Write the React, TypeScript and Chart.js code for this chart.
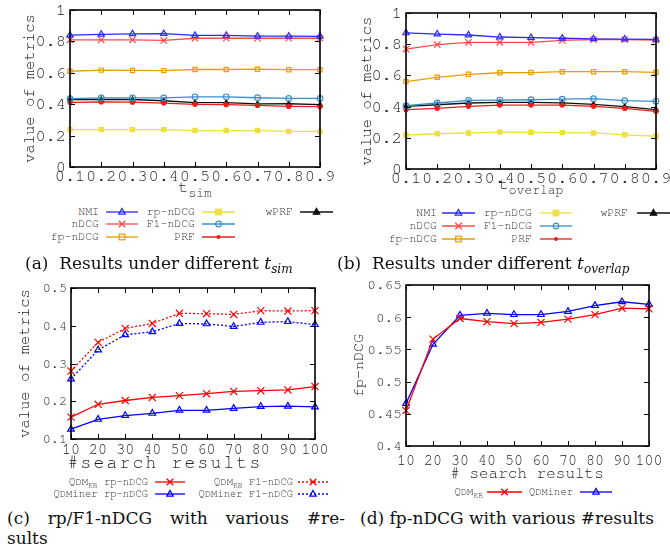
import React, { useEffect, useRef } from 'react';
import { Chart, registerables } from 'chart.js';
Chart.register(...registerables);

// ---------- data ----------
const tLabels = ['0.1', '0.2', '0.3', '0.4', '0.5', '0.6', '0.7', '0.8', '0.9'];
const nLabels = ['10', '20', '30', '40', '50', '60', '70', '80', '90', '100'];

// (a) t_sim
const simNMI = [0.84, 0.845, 0.848, 0.849, 0.838, 0.838, 0.833, 0.833, 0.832];
const simNDCG = [0.81, 0.81, 0.81, 0.806, 0.82, 0.82, 0.82, 0.82, 0.82];
const simFp = [0.61, 0.617, 0.615, 0.614, 0.621, 0.621, 0.623, 0.62, 0.62];
const simRp = [0.238, 0.238, 0.238, 0.238, 0.232, 0.232, 0.232, 0.227, 0.227];
const simF1 = [0.435, 0.44, 0.44, 0.44, 0.447, 0.447, 0.441, 0.437, 0.437];
const simPRF = [0.412, 0.414, 0.413, 0.407, 0.399, 0.397, 0.392, 0.386, 0.384];
const simWPRF = [0.43, 0.43, 0.43, 0.422, 0.41, 0.41, 0.402, 0.403, 0.397];

// (b) t_overlap
const ovNMI = [0.872, 0.865, 0.859, 0.846, 0.842, 0.838, 0.834, 0.833, 0.831];
const ovNDCG = [0.769, 0.797, 0.812, 0.812, 0.812, 0.825, 0.829, 0.829, 0.826];
const ovFp = [0.56, 0.588, 0.607, 0.617, 0.618, 0.624, 0.624, 0.624, 0.62];
const ovRp = [0.218, 0.226, 0.231, 0.237, 0.235, 0.233, 0.231, 0.219, 0.21];
const ovF1 = [0.406, 0.423, 0.44, 0.442, 0.444, 0.448, 0.451, 0.438, 0.434];
const ovPRF = [0.38, 0.389, 0.402, 0.41, 0.41, 0.41, 0.402, 0.388, 0.37];
const ovWPRF = [0.402, 0.412, 0.423, 0.427, 0.427, 0.424, 0.414, 0.4, 0.381];

// (c) rp / F1-nDCG vs #search results
const kbF1 = [0.28, 0.356, 0.393, 0.406, 0.433, 0.432, 0.43, 0.44, 0.439, 0.44];
const minerF1 = [0.259, 0.336, 0.376, 0.384, 0.406, 0.405, 0.398, 0.409, 0.411, 0.403];
const kbRp = [0.158, 0.192, 0.202, 0.21, 0.215, 0.22, 0.226, 0.228, 0.23, 0.239];
const minerRp = [0.126, 0.152, 0.162, 0.168, 0.176, 0.176, 0.181, 0.186, 0.187, 0.185];

// (d) fp-nDCG vs #search results
const kbFp = [0.455, 0.566, 0.598, 0.593, 0.59, 0.592, 0.597, 0.604, 0.614, 0.613];
const minerFp = [0.466, 0.558, 0.603, 0.606, 0.604, 0.604, 0.609, 0.618, 0.624, 0.62];

// ---------- styles ----------
const MONO = '"Nimbus Mono PS", "Nimbus Mono L", "FreeMono", "Courier New", Courier, "Liberation Mono", monospace';
const SERIF = '"DejaVu Serif", serif';
const TXT = '#1e1e1e';

const COL = {
  nmi: '#2a2aff',
  ndcg: '#ff4a4a',
  fp: '#e8a000',
  rp: '#ede040',
  f1: '#3a8fcc',
  prf: '#ee1c1c',
  wprf: '#111111',
  red: '#ff0000',
  blue: '#0000ff',
};

function ds(label: string, data: number[], color: string, style: string, radius: number, filled: boolean, dash: number[] = []) {
  return {
    label,
    data,
    borderColor: color,
    backgroundColor: color,
    borderWidth: 1.3,
    borderDash: dash,
    pointStyle: style,
    pointRadius: radius,
    pointBorderColor: color,
    pointBackgroundColor: filled ? color : 'rgba(0,0,0,0)',
    pointBorderWidth: 1.2,
    tension: 0,
    clip: false,
  };
}

const framePlugin = {
  id: 'gnuframe',
  afterDraw(chart: any) {
    const { ctx, chartArea } = chart;
    const { left, right, top, bottom } = chartArea;
    const xs = chart.scales.x;
    const ys = chart.scales.y;
    const L = 5;
    ctx.save();
    ctx.strokeStyle = '#000';
    ctx.lineWidth = 1;
    ctx.beginPath();
    xs.ticks.forEach((_: any, i: number) => {
      const px = Math.round(xs.getPixelForTick(i)) + 0.5;
      ctx.moveTo(px, bottom);
      ctx.lineTo(px, bottom - L);
      ctx.moveTo(px, top);
      ctx.lineTo(px, top + L);
    });
    ys.ticks.forEach((_: any, i: number) => {
      const py = Math.round(ys.getPixelForTick(i)) + 0.5;
      ctx.moveTo(left, py);
      ctx.lineTo(left + L, py);
      ctx.moveTo(right, py);
      ctx.lineTo(right - L, py);
    });
    ctx.stroke();
    ctx.lineWidth = 1.6;
    ctx.strokeRect(left, top, right - left, bottom - top);
    ctx.restore();
  },
};

type Box = { left: number; top: number; width: number; height: number };
type Area = { left: number; top: number; right: number; bottom: number };

function fmt(v: number) {
  return String(Number(Number(v).toFixed(3)));
}

function ChartPanel(props: {
  box: Box;
  area: Area;
  labels: string[];
  datasets: any[];
  yMin: number;
  yMax: number;
  yStep: number;
  xFontSize: number;
  xPad: number;
  yFontSize: number;
  yTitle: string;
  yTitleSize: number;
  yTitlePad: number;
}) {
  const ref = useRef<HTMLCanvasElement>(null);
  const { box, area } = props;
  useEffect(() => {
    const chart = new Chart(ref.current as HTMLCanvasElement, {
      type: 'line',
      data: { labels: props.labels, datasets: props.datasets },
      options: {
        animation: false,
        responsive: false,
        maintainAspectRatio: false,
        devicePixelRatio: 1,
        layout: {
          padding: {
            left: 0,
            top: area.top - box.top,
            right: box.left + box.width - area.right,
            bottom: 0,
          },
        },
        plugins: { legend: { display: false }, tooltip: { enabled: false } },
        scales: {
          x: {
            type: 'category',
            offset: false,
            grid: { display: false, drawTicks: false },
            border: { display: false },
            ticks: {
              autoSkip: false,
              maxRotation: 0,
              minRotation: 0,
              padding: props.xPad,
              color: TXT,
              font: { family: MONO, size: props.xFontSize },
            },
            afterFit: (s: any) => {
              s.height = box.top + box.height - area.bottom;
              s.paddingLeft = 0;
              s.paddingRight = 0;
            },
          },
          y: {
            type: 'linear',
            min: props.yMin,
            max: props.yMax,
            grid: { display: false, drawTicks: false },
            border: { display: false },
            ticks: {
              stepSize: props.yStep,
              padding: 4,
              color: TXT,
              font: { family: MONO, size: props.yFontSize },
              callback: (v: any) => fmt(v),
            },
            title: {
              display: true,
              text: props.yTitle,
              color: TXT,
              font: { family: MONO, size: props.yTitleSize },
              padding: { top: props.yTitlePad, bottom: 0 },
            },
            afterFit: (s: any) => {
              s.width = area.left - box.left;
              s.paddingTop = 0;
              s.paddingBottom = 0;
            },
          },
        },
      } as any,
      plugins: [framePlugin],
    });
    return () => chart.destroy();
  }, []);
  return (
    <canvas
      ref={ref}
      width={box.width}
      height={box.height}
      style={{ position: 'absolute', left: box.left, top: box.top, width: box.width, height: box.height }}
    />
  );
}

// ---------- legend ----------
function Marker({ type, cx, cy, color }: { type: string; cx: number; cy: number; color: string }) {
  if (type === 'triOpen' || type === 'triFill') {
    const r = 3.6;
    const pts = `${cx},${cy - r} ${cx - r * 0.9},${cy + r * 0.6} ${cx + r * 0.9},${cy + r * 0.6}`;
    return <polygon points={pts} fill={type === 'triFill' ? color : 'none'} stroke={color} strokeWidth={1.2} />;
  }
  if (type === 'cross') {
    const r = 3.3;
    return (
      <g stroke={color} strokeWidth={1.3}>
        <line x1={cx - r} y1={cy - r} x2={cx + r} y2={cy + r} />
        <line x1={cx - r} y1={cy + r} x2={cx + r} y2={cy - r} />
      </g>
    );
  }
  if (type === 'sqOpen' || type === 'sqFill') {
    const r = 2.8;
    return <rect x={cx - r} y={cy - r} width={2 * r} height={2 * r} fill={type === 'sqFill' ? color : 'none'} stroke={color} strokeWidth={1.2} />;
  }
  if (type === 'circOpen') return <circle cx={cx} cy={cy} r={2.8} fill="none" stroke={color} strokeWidth={1.2} />;
  if (type === 'dot') return <circle cx={cx} cy={cy} r={2} fill={color} />;
  return null;
}

function LegendEntry(props: {
  y: number;
  textRight: number;
  x1: number;
  x2: number;
  label: React.ReactNode;
  color: string;
  marker: string;
  fontSize: number;
  dash?: string;
}) {
  const { y, textRight, x1, x2, label, color, marker, fontSize, dash } = props;
  const w = x2 - x1;
  return (
    <>
      <div
        style={{
          position: 'absolute',
          right: 670 - textRight,
          top: y - 8,
          height: 16,
          lineHeight: '16px',
          fontFamily: MONO,
          fontSize,
          color: '#333',
          whiteSpace: 'nowrap',
        }}
      >
        {label}
      </div>
      <svg style={{ position: 'absolute', left: x1, top: y - 7 }} width={w} height={14}>
        <line x1={0} y1={7} x2={w} y2={7} stroke={color} strokeWidth={1.3} strokeDasharray={dash} />
        <Marker type={marker} cx={w / 2} cy={7} color={color} />
      </svg>
    </>
  );
}

const Sub = ({ children, size }: { children: React.ReactNode; size: number }) => (
  <span style={{ fontSize: size, position: 'relative', top: '0.35em' }}>{children}</span>
);

export default function App() {
  const tickFontAB = 17;

  const dsA = [
    ds('NMI', simNMI, COL.nmi, 'triangle', 3.6, false),
    ds('nDCG', simNDCG, COL.ndcg, 'crossRot', 4.5, false),
    ds('fp-nDCG', simFp, COL.fp, 'rect', 3, false),
    ds('rp-nDCG', simRp, COL.rp, 'rect', 3, true),
    ds('F1-nDCG', simF1, COL.f1, 'circle', 2.8, false),
    ds('PRF', simPRF, COL.prf, 'circle', 2, true),
    ds('wPRF', simWPRF, COL.wprf, 'triangle', 2.8, true),
  ];
  const dsB = [
    ds('NMI', ovNMI, COL.nmi, 'triangle', 3.6, false),
    ds('nDCG', ovNDCG, COL.ndcg, 'crossRot', 4.5, false),
    ds('fp-nDCG', ovFp, COL.fp, 'rect', 3, false),
    ds('rp-nDCG', ovRp, COL.rp, 'rect', 3, true),
    ds('F1-nDCG', ovF1, COL.f1, 'circle', 2.8, false),
    ds('PRF', ovPRF, COL.prf, 'circle', 2, true),
    ds('wPRF', ovWPRF, COL.wprf, 'triangle', 2.8, true),
  ];
  const dsC = [
    ds('QDM_KB rp-nDCG', kbRp, COL.red, 'crossRot', 5, false),
    ds('QDMiner rp-nDCG', minerRp, COL.blue, 'triangle', 3.8, false),
    ds('QDM_KB F1-nDCG', kbF1, COL.red, 'crossRot', 5, false, [2, 2]),
    ds('QDMiner F1-nDCG', minerF1, COL.blue, 'triangle', 3.8, false, [2, 2]),
  ];
  const dsD = [
    ds('QDM_KB', kbFp, COL.red, 'crossRot', 5, false),
    ds('QDMiner', minerFp, COL.blue, 'triangle', 3.8, false),
  ];

  const legA = 11.5;
  const legC = 10.5;
  const KB = (
    <>
      QDM<Sub size={8}>KB</Sub>
    </>
  );

  return (
    <div style={{ position: 'absolute', left: 0, top: 0, width: 670, height: 549, background: '#fff', overflow: 'hidden' }}>
      <ChartPanel
        box={{ left: 0, top: 0, width: 335, height: 200 }}
        area={{ left: 70, top: 10, right: 320, bottom: 167 }}
        labels={tLabels}
        datasets={dsA}
        yMin={0}
        yMax={1}
        yStep={0.2}
        xFontSize={tickFontAB}
        xPad={-1}
        yFontSize={tickFontAB}
        yTitle="value of metrics"
        yTitleSize={15.5}
        yTitlePad={20}
      />
      <ChartPanel
        box={{ left: 335, top: 0, width: 335, height: 200 }}
        area={{ left: 406, top: 13, right: 656, bottom: 169 }}
        labels={tLabels}
        datasets={dsB}
        yMin={0}
        yMax={1}
        yStep={0.2}
        xFontSize={tickFontAB}
        xPad={-1}
        yFontSize={tickFontAB}
        yTitle="value of metrics"
        yTitleSize={15.5}
        yTitlePad={22}
      />
      <ChartPanel
        box={{ left: 0, top: 262, width: 335, height: 210 }}
        area={{ left: 71, top: 288, right: 315, bottom: 439 }}
        labels={nLabels}
        datasets={dsC}
        yMin={0.1}
        yMax={0.5}
        yStep={0.05}
        xFontSize={15}
        xPad={1}
        yFontSize={13.5}
        yTitle="value of metrics"
        yTitleSize={15.5}
        yTitlePad={15}
      />
      <ChartPanel
        box={{ left: 335, top: 262, width: 335, height: 210 }}
        area={{ left: 406, top: 285, right: 649, bottom: 446 }}
        labels={nLabels}
        datasets={dsD}
        yMin={0.4}
        yMax={0.65}
        yStep={0.05}
        xFontSize={15}
        xPad={5}
        yFontSize={14.5}
        yTitle="fp-nDCG"
        yTitleSize={15}
        yTitlePad={14}
      />

      {/* x-axis titles */}
      <div style={{ position: 'absolute', left: 95, width: 200, top: 177, textAlign: 'center', fontFamily: MONO, fontSize: 17, lineHeight: '20px', color: TXT }}>
        t<Sub size={13}>sim</Sub>
      </div>
      <div style={{ position: 'absolute', left: 431, width: 200, top: 174, textAlign: 'center', fontFamily: MONO, fontSize: 17, lineHeight: '20px', color: TXT }}>
        t<Sub size={13}>overlap</Sub>
      </div>
      <div style={{ position: 'absolute', left: 15, width: 300, top: 453, textAlign: 'center', fontFamily: MONO, fontSize: 18, letterSpacing: 2.2, lineHeight: '20px', color: TXT }}>
        #search results
      </div>
      <div style={{ position: 'absolute', left: 377, width: 300, top: 463, textAlign: 'center', fontFamily: MONO, fontSize: 16, lineHeight: '20px', color: TXT }}>
        # search results
      </div>

      {/* legend (a) */}
      <LegendEntry y={212} textRight={99} x1={106} x2={138} label="NMI" color={COL.nmi} marker="triOpen" fontSize={legA} />
      <LegendEntry y={224} textRight={99} x1={106} x2={138} label="nDCG" color={COL.ndcg} marker="cross" fontSize={legA} />
      <LegendEntry y={237} textRight={99} x1={106} x2={138} label="fp-nDCG" color={COL.fp} marker="sqOpen" fontSize={legA} />
      <LegendEntry y={212} textRight={195} x1={202} x2={235} label="rp-nDCG" color={COL.rp} marker="sqFill" fontSize={legA} />
      <LegendEntry y={224} textRight={195} x1={202} x2={235} label="F1-nDCG" color={COL.f1} marker="circOpen" fontSize={legA} />
      <LegendEntry y={237} textRight={195} x1={202} x2={235} label="PRF" color={COL.prf} marker="dot" fontSize={legA} />
      <LegendEntry y={212} textRight={293} x1={300} x2={333} label="wPRF" color={COL.wprf} marker="triFill" fontSize={legA} />

      {/* legend (b) */}
      <LegendEntry y={213} textRight={437} x1={442} x2={475} label="NMI" color={COL.nmi} marker="triOpen" fontSize={legA} />
      <LegendEntry y={226} textRight={437} x1={442} x2={475} label="nDCG" color={COL.ndcg} marker="cross" fontSize={legA} />
      <LegendEntry y={239} textRight={437} x1={442} x2={475} label="fp-nDCG" color={COL.fp} marker="sqOpen" fontSize={legA} />
      <LegendEntry y={213} textRight={532} x1={540} x2={572} label="rp-nDCG" color={COL.rp} marker="sqFill" fontSize={legA} />
      <LegendEntry y={226} textRight={532} x1={540} x2={572} label="F1-nDCG" color={COL.f1} marker="circOpen" fontSize={legA} />
      <LegendEntry y={239} textRight={532} x1={540} x2={572} label="PRF" color={COL.prf} marker="dot" fontSize={legA} />
      <LegendEntry y={213} textRight={628} x1={637} x2={670} label="wPRF" color={COL.wprf} marker="triFill" fontSize={legA} />

      {/* legend (c) */}
      <LegendEntry y={482} textRight={148} x1={155} x2={185} label={<>{KB} rp-nDCG</>} color={COL.red} marker="cross" fontSize={legC} />
      <LegendEntry y={494} textRight={148} x1={155} x2={185} label="QDMiner rp-nDCG" color={COL.blue} marker="triOpen" fontSize={legC} />
      <LegendEntry y={482} textRight={293} x1={298} x2={328} label={<>{KB} F1-nDCG</>} color={COL.red} marker="cross" fontSize={legC} dash="2,2" />
      <LegendEntry y={494} textRight={293} x1={298} x2={328} label="QDMiner F1-nDCG" color={COL.blue} marker="triOpen" fontSize={legC} dash="2,2" />

      {/* legend (d) */}
      <LegendEntry y={492} textRight={483} x1={487} x2={522} label={KB} color={COL.red} marker="cross" fontSize={legC} />
      <LegendEntry y={492} textRight={573} x1={580} x2={612} label="QDMiner" color={COL.blue} marker="triOpen" fontSize={legC} />

      {/* captions */}
      <div style={{ position: 'absolute', left: 25, top: 252, fontFamily: SERIF, fontSize: 17, lineHeight: '22px', color: '#111', whiteSpace: 'nowrap' }}>
        (a)&nbsp;&nbsp;Results under different <i>t</i><Sub size={12}><i>sim</i></Sub>
      </div>
      <div style={{ position: 'absolute', left: 337, top: 252, fontFamily: SERIF, fontSize: 17, lineHeight: '22px', color: '#111', whiteSpace: 'nowrap' }}>
        (b)&nbsp;&nbsp;Results under different <i>t</i><Sub size={12}><i>overlap</i></Sub>
      </div>
      <div style={{ position: 'absolute', left: 7, width: 338, top: 507, fontFamily: SERIF, fontSize: 17, lineHeight: '22px', color: '#111' }}>
        <div style={{ textAlign: 'justify', textAlignLast: 'justify' } as any}>(c) rp/F1-nDCG with various #re-</div>
      </div>
      <div style={{ position: 'absolute', left: 7, top: 527, fontFamily: SERIF, fontSize: 17, lineHeight: '22px', color: '#111' }}>sults</div>
      <div style={{ position: 'absolute', left: 360, top: 507, fontFamily: SERIF, fontSize: 17, lineHeight: '22px', color: '#111', whiteSpace: 'nowrap' }}>
        (d) fp-nDCG with various #results
      </div>
    </div>
  );
}
